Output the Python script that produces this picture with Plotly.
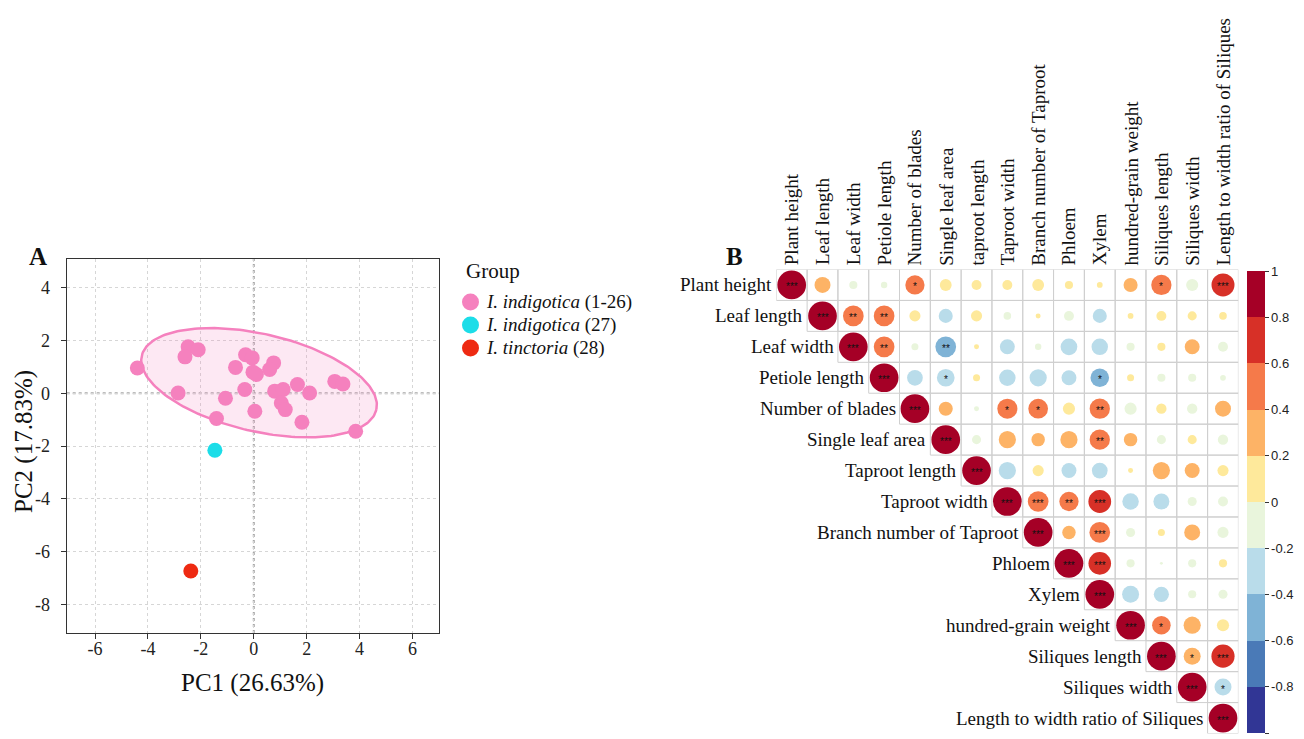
import numpy as np
import plotly.graph_objects as go

# ---------------- Panel A data (PCA scores) ----------------
grp1_pc1 = [-4.40, -2.48, -2.10, -2.60, -2.86, -1.41, -1.07, -0.69, -0.31, -0.06, -0.34, -0.03, 0.10,
            0.04, 0.75, 0.60, 0.79, 1.11, 1.04, 1.19, 1.65, 2.11, 1.82, 3.06, 3.37, 3.85]
grp1_pc2 = [0.96, 1.76, 1.65, 1.38, 0.01, -0.96, -0.19, 0.98, 1.46, 1.34, 0.14, 0.80, 0.71,
            -0.68, 1.15, 0.90, 0.08, 0.14, -0.37, -0.62, 0.33, 0.01, -1.10, 0.45, 0.35, -1.44]
grp2_pc1 = [-1.47]
grp2_pc2 = [-2.16]
grp3_pc1 = [-2.38]
grp3_pc2 = [-6.74]
group_species = ["I. indigotica", "I. indigotica", "I. tinctoria"]
group_ids = ["(1-26)", "(27)", "(28)"]
group_colors = ["#F581BE", "#1CDDE8", "#EE2A12"]
# ellipse of group 1: centre, semi-axes, rotation (deg)
ellipse_center = [0.20, 0.40]
ellipse_axes = [4.55, 1.85]
ellipse_angle = -13.0
x_ticks = [-6, -4, -2, 0, 2, 4, 6]
y_ticks = [-8, -6, -4, -2, 0, 2, 4]

# ---------------- Panel B data (correlations) ----------------
traits = ["Plant height", "Leaf length", "Leaf width", "Petiole length", "Number of blades",
          "Single leaf area", "taproot length", "Taproot width", "Branch number of Taproot",
          "Phloem", "Xylem", "hundred-grain weight", "Siliques length", "Siliques width",
          "Length to width ratio of Siliques"]
row_labels = ["Plant height", "Leaf length", "Leaf width", "Petiole length", "Number of blades",
              "Single leaf area", "Taproot length", "Taproot width", "Branch number of Taproot",
              "Phloem", "Xylem", "hundred-grain weight", "Siliques length", "Siliques width",
              "Length to width ratio of Siliques"]
# upper triangle: row i holds r for columns i+1..15
corr_upper = [
    [0.31, -0.08, -0.05, 0.45, 0.17, 0.12, 0.12, 0.17, 0.08, 0.04, 0.24, 0.50, -0.18, 0.64],
    [0.52, 0.52, 0.15, -0.24, 0.15, -0.07, 0.03, -0.12, -0.24, 0.04, 0.12, 0.10, 0.07],
    [0.52, -0.06, -0.52, 0.03, -0.27, -0.05, -0.34, -0.33, -0.08, 0.08, 0.27, -0.12],
    [-0.30, -0.38, 0.06, -0.33, -0.36, -0.27, -0.42, 0.06, -0.08, -0.08, -0.04],
    [0.24, -0.03, 0.49, 0.47, 0.18, 0.50, -0.18, 0.13, -0.13, 0.31],
    [-0.10, 0.36, 0.22, 0.36, 0.50, 0.22, -0.10, 0.10, -0.13],
    [-0.36, 0.15, -0.27, -0.30, 0.03, 0.36, 0.27, 0.15],
    [0.52, 0.45, 0.63, -0.33, -0.31, -0.10, -0.12],
    [0.22, 0.52, -0.10, 0.06, 0.31, -0.15],
    [0.62, -0.08, -0.01, -0.08, 0.08],
    [-0.35, -0.28, -0.08, -0.10],
    [0.42, 0.36, 0.18],
    [0.35, 0.65],
    [-0.35],
]
sig_upper = [
    ["", "", "", "*", "", "", "", "", "", "", "", "*", "", "***"],
    ["**", "**", "", "", "", "", "", "", "", "", "", "", ""],
    ["**", "", "**", "", "", "", "", "", "", "", "", ""],
    ["", "*", "", "", "", "", "*", "", "", "", ""],
    ["", "", "*", "*", "", "**", "", "", "", ""],
    ["", "", "", "", "**", "", "", "", ""],
    ["", "", "", "", "", "", "", ""],
    ["***", "**", "***", "", "", "", ""],
    ["", "***", "", "", "", ""],
    ["***", "", "", "", ""],
    ["", "", "", ""],
    ["*", "", ""],
    ["*", "***"],
    ["*"],
]
bin_colors = ["#313695", "#4A7AB7", "#7FB3D6", "#B9DCEA", "#E9F5DC",
              "#FEE99B", "#FDB366", "#F57A4A", "#D73027", "#A50026"]
cbar_ticks = [-1, -0.8, -0.6, -0.4, -0.2, 0, 0.2, 0.4, 0.6, 0.8, 1]
cbar_labels = ["-1", "-0.8", "-0.6", "-0.4", "-0.2", "0", "0.2", "0.4", "0.6", "0.8", "1"]

SERIF = "Liberation Serif"
W, H = 1304, 739


def PX(x):
    return x / W


def PY(y):
    return 1 - y / H


fig = go.Figure()

# ---- ellipse ----
t = np.linspace(0, 2 * np.pi, 200)
th = np.deg2rad(ellipse_angle)
ex = ellipse_center[0] + ellipse_axes[0] * np.cos(t) * np.cos(th) - ellipse_axes[1] * np.sin(t) * np.sin(th)
ey = ellipse_center[1] + ellipse_axes[0] * np.cos(t) * np.sin(th) + ellipse_axes[1] * np.sin(t) * np.cos(th)
fig.add_trace(go.Scatter(x=ex, y=ey, mode="lines", fill="toself",
                         fillcolor="rgba(245,129,190,0.18)",
                         line=dict(color=group_colors[0], width=2.5),
                         showlegend=False, hoverinfo="skip", xaxis="x", yaxis="y"))

for xs, ys, col in [(grp1_pc1, grp1_pc2, group_colors[0]),
                    (grp2_pc1, grp2_pc2, group_colors[1]),
                    (grp3_pc1, grp3_pc2, group_colors[2])]:
    fig.add_trace(go.Scatter(x=xs, y=ys, mode="markers", showlegend=False,
                             marker=dict(size=15, color=col, opacity=1, line=dict(width=0)),
                             xaxis="x", yaxis="y"))

# ---- correlation circles ----
cx, cy, cr, ctext = [], [], [], []
n = len(traits)
for i in range(n):
    cx.append(i + 1); cy.append(i + 1); cr.append(1.0); ctext.append("***")
    if i < n - 1:
        for k, r in enumerate(corr_upper[i]):
            j = i + 1 + k
            cx.append(j + 1); cy.append(i + 1); cr.append(r); ctext.append(sig_upper[i][k])

cscale = []
for k, c in enumerate(bin_colors):
    cscale.append([k / 10, c])
    cscale.append([(k + 1) / 10, c])

shapes = []
for i in range(n):
    for j in range(i, n):
        shapes.append(dict(type="rect", xref="x2", yref="y2",
                           x0=j + 0.5, x1=j + 1.5, y0=i + 0.5, y1=i + 1.5,
                           line=dict(color="#CFCFCF", width=1), layer="below"))

fig.add_trace(go.Scatter(
    x=cx, y=cy, mode="markers", xaxis="x2", yaxis="y2", showlegend=False,
    marker=dict(size=[28.7 * np.sqrt(abs(v)) for v in cr], color=cr, cmin=-1, cmax=1, opacity=1,
                colorscale=cscale, line=dict(width=0), showscale=True,
                colorbar=dict(x=PX(1247), xanchor="left", y=PY(502), yanchor="middle",
                              lenmode="pixels", len=462, thicknessmode="pixels", thickness=18,
                              xpad=0, ypad=0, outlinewidth=0,
                              tickvals=cbar_ticks, ticktext=cbar_labels,
                              ticks="outside", ticklen=4, tickcolor="#333",
                              tickfont=dict(family="Liberation Sans", size=13, color="#222"))),
    hoverinfo="skip"))

annotations = []
for x, y, s in zip(cx, cy, ctext):
    if s:
        annotations.append(dict(x=x, y=y, xref="x2", yref="y2", text=s, showarrow=False,
                                xanchor="center", yanchor="middle", yshift=-2,
                                font=dict(family="Liberation Sans", size=10, color="#111")))
for i, lab in enumerate(row_labels):
    annotations.append(dict(x=i + 0.5, y=i + 1, xref="x2", yref="y2", text=lab, showarrow=False,
                            xanchor="right", yanchor="middle", xshift=-2,
                            font=dict(family=SERIF, size=19, color="#111")))
for j, lab in enumerate(traits):
    annotations.append(dict(x=j + 1, y=0.5, xref="x2", yref="y2", text=lab, showarrow=False,
                            textangle=-90, xanchor="center", yanchor="bottom", yshift=2,
                            font=dict(family=SERIF, size=19, color="#111")))

# PCA axis titles and panel letters
annotations += [
    dict(x=PX((66.7 + 439) / 2), y=PY(683), xref="paper", yref="paper", text="PC1 (26.63%)",
         xanchor="center", yanchor="middle",
         showarrow=False, font=dict(family=SERIF, size=25, color="#111")),
    dict(x=PX(24), y=PY(442), xref="paper", yref="paper", text="PC2 (17.83%)", textangle=-90,
         xanchor="center", yanchor="middle",
         showarrow=False, font=dict(family=SERIF, size=25, color="#111")),
    dict(x=PX(38), y=PY(256), xref="paper", yref="paper", text="<b>A</b>",
         xanchor="center", yanchor="middle",
         showarrow=False, font=dict(family=SERIF, size=25, color="#111")),
    dict(x=PX(734), y=PY(256), xref="paper", yref="paper", text="<b>B</b>",
         xanchor="center", yanchor="middle",
         showarrow=False, font=dict(family=SERIF, size=25, color="#111")),
    dict(x=PX(464), y=PY(271), xref="paper", yref="paper", text="Group",
         xanchor="left", yanchor="middle",
         showarrow=False, font=dict(family=SERIF, size=21, color="#111")),
]
# legend entries (key circle + label)
for k in range(3):
    yk = 302 + 23 * k
    shapes.append(dict(type="circle", xref="paper", yref="paper",
                       x0=PX(462), x1=PX(479), y0=PY(yk + 8.5), y1=PY(yk - 8.5),
                       fillcolor=group_colors[k], line=dict(width=0)))
    annotations.append(dict(x=PX(484), y=PY(yk), xref="paper", yref="paper",
                            text="<i>" + group_species[k] + "</i> " + group_ids[k],
                            xanchor="left", yanchor="middle", showarrow=False,
                            font=dict(family=SERIF, size=19, color="#111")))

# zero lines of PCA
shapes += [
    dict(type="line", xref="x", yref="y domain", x0=0, x1=0, y0=0, y1=1,
         line=dict(color="#A8A8A8", width=2, dash="dot"), layer="below"),
    dict(type="line", xref="x domain", yref="y", x0=0, x1=1, y0=0, y1=0,
         line=dict(color="#A8A8A8", width=2, dash="dot"), layer="below"),
]

fig.update_layout(
    width=W, height=H, margin=dict(l=0, r=0, t=0, b=0),
    paper_bgcolor="white", plot_bgcolor="white",
    font=dict(family=SERIF, color="#111"),
    showlegend=False,
    xaxis=dict(domain=[PX(66.7), PX(439)], range=[-7.07, 7.0],
               tickvals=x_ticks, ticktext=[str(v) for v in x_ticks],
               showgrid=True, gridcolor="#D6D6D6", griddash="dot", gridwidth=1,
               zeroline=False, showline=True, mirror=True, linecolor="#333", linewidth=1,
               ticks="outside", ticklen=5, tickcolor="#333", ticklabelstandoff=-6,
               tickfont=dict(family=SERIF, size=18, color="#222")),
    yaxis=dict(domain=[PY(633), PY(259)], range=[-9.09, 5.09],
               tickvals=y_ticks, ticktext=[str(v) for v in y_ticks],
               showgrid=True, gridcolor="#D6D6D6", griddash="dot", gridwidth=1,
               zeroline=False, showline=True, mirror=True, linecolor="#333", linewidth=1,
               ticks="outside", ticklen=5, tickcolor="#333", ticklabelstandoff=7,
               tickfont=dict(family=SERIF, size=18, color="#222")),
    xaxis2=dict(domain=[PX(776.3), PX(1238.4)], range=[0.5, 15.5], visible=False, anchor="y2"),
    yaxis2=dict(domain=[PY(733.5), PY(269.5)], range=[15.5, 0.5], visible=False, anchor="x2"),
    shapes=shapes, annotations=annotations,
)

fig.write_html("out.html", config={"displayModeBar": False},
               post_script="document.body.style.margin='0px';")
